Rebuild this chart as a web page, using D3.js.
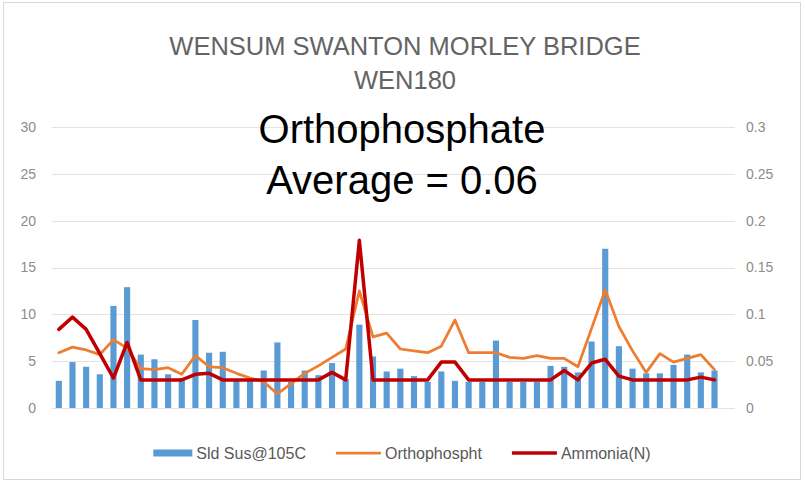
<!DOCTYPE html>
<html><head><meta charset="utf-8">
<script src="https://cdn.jsdelivr.net/npm/d3@7"></script>
<style>body{margin:0;background:#fff}svg{display:block}</style>
</head><body><svg id="c" width="805" height="483"></svg>
<script>
const categories = [1,2,3,4,5,6,7,8,9,10,11,12,13,14,15,16,17,18,19,20,21,22,23,24,25,26,27,28,29,30,31,32,33,34,35,36,37,38,39,40,41,42,43,44,45,46,47,48,49,50];
const sldSus = [2.9,4.9,4.4,3.6,10.9,12.9,5.7,5.2,3.6,3.2,9.4,5.9,6.0,3.0,3.0,4.0,7.0,2.8,4.0,3.5,4.8,3.1,8.9,5.5,3.9,4.2,3.4,2.8,3.9,2.9,2.8,2.8,7.2,2.8,2.8,2.8,4.5,4.4,3.8,7.1,17.0,6.6,4.2,3.7,3.7,4.6,5.7,3.8,4.0,null];
const orthophosphate = [0.059,0.065,0.062,0.057,0.073,0.064,0.042,0.041,0.043,0.036,0.056,0.044,0.043,0.037,0.032,0.028,0.015,0.026,0.037,0.045,0.054,0.063,0.125,0.076,0.080,0.063,0.061,0.059,0.066,0.094,0.059,0.059,0.059,0.054,0.053,0.056,0.053,0.053,0.044,0.085,0.126,0.087,0.061,0.038,0.058,0.049,0.053,0.057,0.041,null];
const ammonia = [0.084,0.097,0.084,0.058,0.032,0.070,0.03,0.03,0.03,0.03,0.036,0.037,0.03,0.03,0.03,0.03,0.03,0.03,0.03,0.03,0.038,0.030,0.179,0.03,0.03,0.03,0.03,0.03,0.049,0.049,0.03,0.03,0.03,0.03,0.03,0.03,0.03,0.040,0.03,0.048,0.052,0.034,0.03,0.03,0.03,0.03,0.03,0.033,0.030,null];
const leftTicks = [0,5,10,15,20,25,30];
const rightTicks = [0,0.05,0.1,0.15,0.2,0.25,0.3];
const titleLines = ["WENSUM SWANTON MORLEY BRIDGE","WEN180"];
const noteLines = ["Orthophosphate","Average = 0.06"];
const seriesNames = ["Sld Sus@105C","Orthophospht","Ammonia(N)"];

const FONT = "'Liberation Sans', Arial, sans-serif";
const colors = {bar:"#5b9bd5", ortho:"#ed7d31", amm:"#c00000"};
const svg = d3.select("#c");

svg.append("rect").attr("x",3.5).attr("y",2.5).attr("width",797).attr("height",477)
  .attr("fill","#fff").attr("stroke","#d9d9d9");

const x = d3.scaleBand().domain(categories).range([52,735]).paddingInner(0.55).paddingOuter(0.275);
const yL = d3.scaleLinear().domain([0,30]).range([408,127]);
const yR = d3.scaleLinear().domain([0,0.3]).range([408,127]);

// gridlines
svg.append("g").selectAll("line").data(leftTicks).join("line")
  .attr("x1",52).attr("x2",735)
  .attr("y1",d=>Math.round(yL(d))+0.5).attr("y2",d=>Math.round(yL(d))+0.5)
  .attr("stroke","#e3e3e3").attr("stroke-width",1);

// axes
const axL = svg.append("g").attr("transform","translate(52,0)")
  .call(d3.axisLeft(yL).tickValues(leftTicks).tickSize(0).tickPadding(16).tickFormat(d=>String(d)));
const axR = svg.append("g").attr("transform","translate(735,0)")
  .call(d3.axisRight(yR).tickValues(rightTicks).tickSize(0).tickPadding(11).tickFormat(d=>String(d)));
[axL,axR].forEach(a=>{
  a.select(".domain").remove();
  a.selectAll("text").attr("font-family",FONT).attr("font-size",14).attr("fill","#8c8c8c");
});

// bars
svg.append("g").selectAll("rect").data(sldSus.map((v,i)=>({c:categories[i],v})).filter(d=>d.v!=null)).join("rect")
  .attr("x",d=>x(d.c)).attr("width",x.bandwidth())
  .attr("y",d=>yL(d.v)).attr("height",d=>yL(0)-yL(d.v))
  .attr("fill",colors.bar);

const line = d3.line().defined(d=>d.v!=null)
  .x(d=>x(d.c)+x.bandwidth()/2).y(d=>yR(d.v));
svg.append("path").datum(orthophosphate.map((v,i)=>({c:categories[i],v})))
  .attr("d",line).attr("fill","none").attr("stroke",colors.ortho)
  .attr("stroke-width",2.75).attr("stroke-linejoin","round").attr("stroke-linecap","round");
svg.append("path").datum(ammonia.map((v,i)=>({c:categories[i],v})))
  .attr("d",line).attr("fill","none").attr("stroke",colors.amm)
  .attr("stroke-width",3.5).attr("stroke-linejoin","round").attr("stroke-linecap","round");

// title
svg.append("g").selectAll("text").data(titleLines).join("text")
  .attr("x",405).attr("y",(d,i)=>55+i*34).attr("text-anchor","middle")
  .attr("font-family",FONT).attr("font-size",25.5).attr("fill","#646464").text(d=>d);

// annotation
svg.append("g").selectAll("text").data(noteLines).join("text")
  .attr("x",402).attr("y",(d,i)=>143+i*51).attr("text-anchor","middle")
  .attr("font-family",FONT).attr("font-size",40).attr("fill","#000").text(d=>d);

// legend
const leg = svg.append("g");
const items = seriesNames.map((n,i)=>({n,i}));
const sw = [39,45,45], gap=4, itemGap=30, ly=453;
const texts = items.map(d=>{
  const t = leg.append("text").attr("font-family",FONT).attr("font-size",16).attr("fill","#595959")
    .attr("y",ly).attr("dy","0.35em").text(d.n);
  return t;
});
const widths = texts.map(t=>t.node().getComputedTextLength());
let total = 0; items.forEach((d,i)=>{ total += sw[i]+gap+widths[i]; if(i<items.length-1) total+=itemGap; });
let cx = 402 - total/2;
items.forEach((d,i)=>{
  if(i===0){
    leg.append("rect").attr("x",cx).attr("y",ly-3.5).attr("width",sw[i]).attr("height",7).attr("fill",colors.bar);
  } else {
    leg.append("line").attr("x1",cx).attr("x2",cx+sw[i]).attr("y1",ly).attr("y2",ly)
      .attr("stroke",i===1?colors.ortho:colors.amm).attr("stroke-width",i===1?2.75:3.5);
  }
  texts[i].attr("x",cx+sw[i]+gap);
  cx += sw[i]+gap+widths[i]+itemGap;
});
</script></body></html>
